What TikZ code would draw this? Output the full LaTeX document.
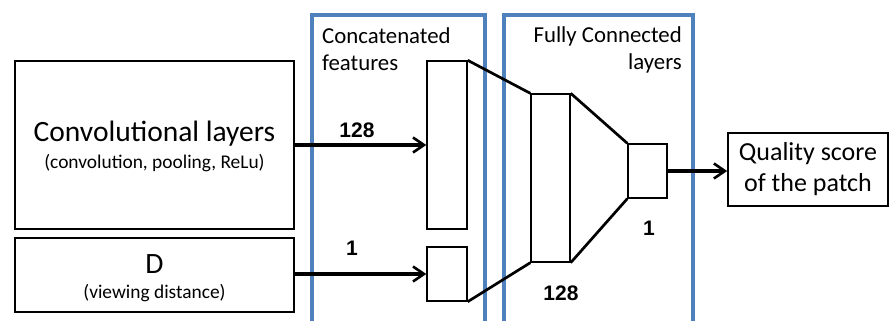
\documentclass[tikz,border=0pt]{standalone}
\usepackage{fontspec}
\setmainfont{Carlito}
\newfontfamily\numfont{Liberation Sans}
\usetikzlibrary{arrows.meta}
\definecolor{groupblue}{RGB}{79,129,189}
\tikzset{
  blk/.style={draw=black, line width=1.6pt, fill=white, inner sep=0pt},
  layer/.style={draw=black, line width=1.4pt, fill=white, inner sep=0pt},
  flow/.style={line width=3.1pt, -{Straight Barb[length=11pt,width=15pt,line width=2.6pt]}},
  funnel/.style={line width=2.7pt},
  group/.style={draw=groupblue, line width=4pt},
  num/.style={font=\numfont\bfseries\fontsize{21}{24}\selectfont, inner sep=0pt},
  grouptitle/.style={font=\fontsize{22.8}{27}\selectfont, inner sep=0pt},
  bigtitle/.style={font=\fontsize{29.5}{32}\selectfont, inner sep=0pt},
  subtitle/.style={font=\fontsize{19.4}{22}\selectfont, inner sep=0pt},
}
\begin{document}
\begin{tikzpicture}[x=1pt,y=-1pt]
\clip (0,0) rectangle (889,321);
\fill[white] (0,0) rectangle (889,321);

% input boxes
\node[blk, minimum width=279pt, minimum height=168pt] (conv) at (154.5,145) {};
\node[bigtitle] (convt) at (154.5,134) {Convolutional layers};
\node[subtitle] (convs) at (154.5,163) {(convolution, pooling, ReLu)};
\node[blk, minimum width=279pt, minimum height=74pt] (dbox) at (154.5,275) {};
\node[bigtitle] (dt) at (154.5,264) {D};
\node[subtitle] (ds) at (154.5,293) {(viewing distance)};

% group frames
\coordinate (g1bl) at (312,330);
\coordinate (g1tl) at (312,15);
\coordinate (g1tr) at (485,15);
\coordinate (g1br) at (485,330);
\coordinate (g2bl) at (504,330);
\coordinate (g2tl) at (504,15);
\coordinate (g2tr) at (693,15);
\coordinate (g2br) at (693,330);
\draw[group] (g1bl) -- (g1tl) -- (g1tr) -- (g1br);
\draw[group] (g2bl) -- (g2tl) -- (g2tr) -- (g2br);

\node[grouptitle, anchor=west, align=left] (catlbl) at (322,49.5) {Concatenated\\features};
\node[grouptitle, anchor=east, align=right] (fclbl) at (682,49.5) {Fully Connected\\layers};

% layers
\node[layer, minimum width=40pt, minimum height=168pt] (cat1) at (447,145) {};
\node[layer, minimum width=40pt, minimum height=54pt] (cat2) at (447,274) {};
\node[layer, minimum width=39pt, minimum height=168pt] (fc1) at (550.5,178) {};
\node[layer, minimum width=39pt, minimum height=54pt] (fc2) at (647.5,171) {};

\draw[funnel] (cat1.north east) -- (fc1.north west);
\draw[funnel] (cat2.south east) -- (fc1.south west);
\draw[funnel] (fc1.north east) -- (fc2.north west);
\draw[funnel] (fc1.south east) -- (fc2.south west);

% output
\node[blk, minimum width=160pt, minimum height=73pt, align=center,
      font=\fontsize{26}{31}\selectfont] (out) at (808,169.5) {Quality score\\of the patch};

% data flow
\draw[flow] (conv.east) -- (cat1.west);
\draw[flow] (dbox.east |- cat2.west) -- (cat2.west);
\draw[flow] (fc2.east) -- (fc2.east -| out.west);

% sizes
\node[num] (n128a) at (357,130) {128};
\node[num] (n1a) at (352,248) {1};
\node[num] (n1b) at (649,228) {1};
\node[num] (n128b) at (561,293) {128};
\end{tikzpicture}
\end{document}
